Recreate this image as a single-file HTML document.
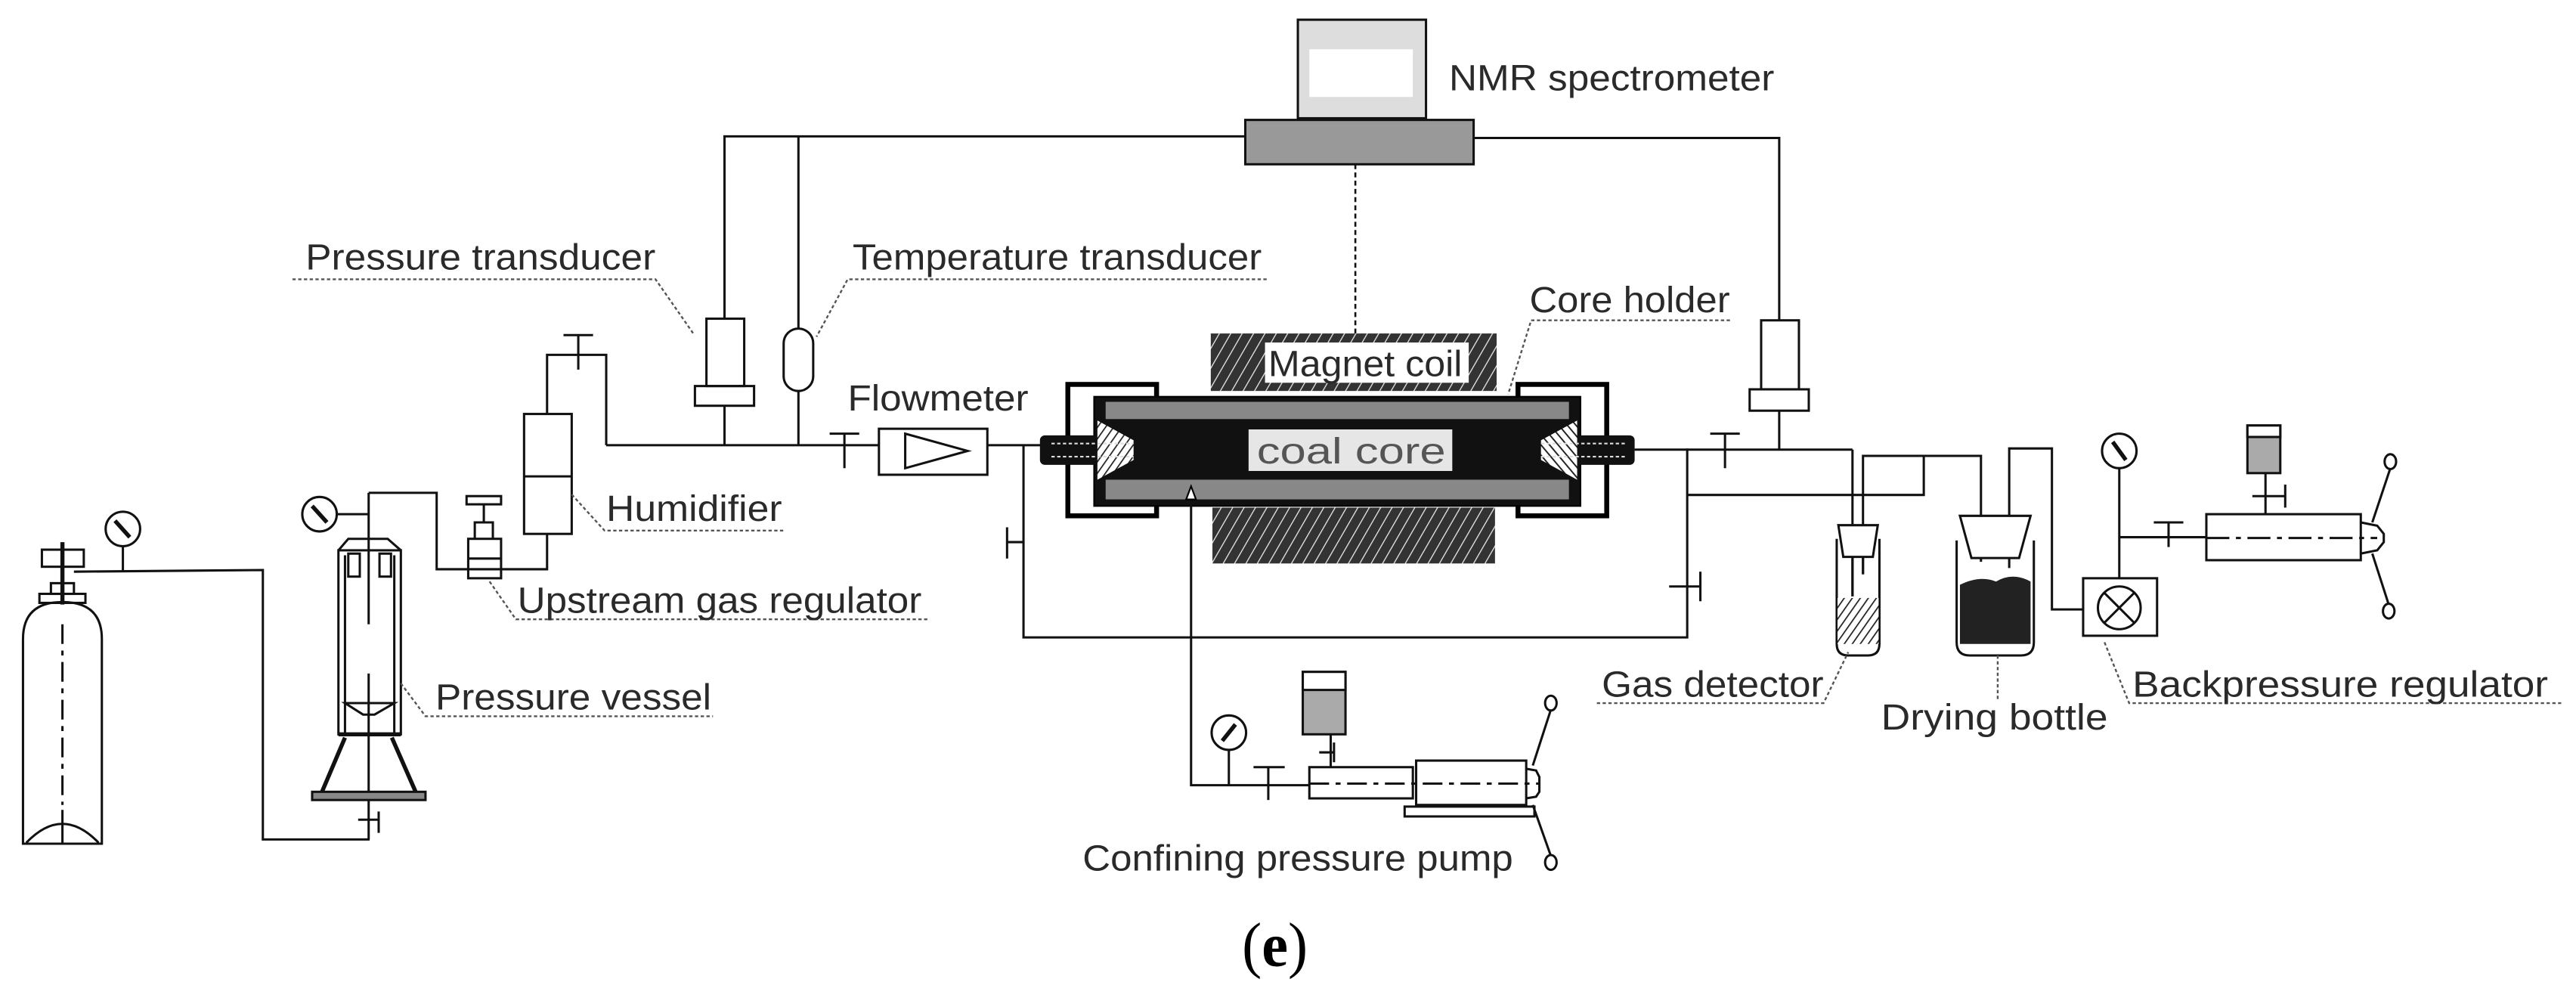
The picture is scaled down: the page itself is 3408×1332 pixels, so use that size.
<!DOCTYPE html>
<html><head><meta charset="utf-8"><style>
html,body{margin:0;padding:0;background:#fff}
svg{display:block}
text{font-family:"Liberation Sans",sans-serif;fill:#2a2a2a}
</style></head><body>
<svg width="3408" height="1332" viewBox="0 0 1568 613" preserveAspectRatio="none" xmlns="http://www.w3.org/2000/svg">
<defs>
<pattern id="hatch" width="6" height="6" patternUnits="userSpaceOnUse" patternTransform="rotate(30)">
<rect width="6" height="6" fill="#333"/><line x1="0" y1="0" x2="0" y2="6" stroke="#e8e8e8" stroke-width="1.2"/></pattern>
<pattern id="hatch2" width="4" height="4" patternUnits="userSpaceOnUse" patternTransform="rotate(35)">
<rect width="4" height="4" fill="#fff"/><line x1="0" y1="0" x2="0" y2="4" stroke="#222" stroke-width="1.6"/></pattern>
<pattern id="hatch3" width="4" height="4" patternUnits="userSpaceOnUse" patternTransform="rotate(-40)">
<rect width="4" height="4" fill="#fff"/><line x1="0" y1="0" x2="0" y2="4" stroke="#222" stroke-width="1.8"/></pattern>
</defs>
<rect width="1568" height="613" fill="#fff"/>
<g fill="none" stroke="#111" stroke-width="1.4">
<path d="M14,513.6 L14,389 Q14,366.5 38,366.5 Q62,366.5 62,389 L62,513.6 Z"/>
<path d="M16,513 Q38,490 60,513"/>
<line x1="38" y1="493" x2="38" y2="513"/>
<line x1="38" y1="380" x2="38" y2="490" stroke-dasharray="12,4,3,4"/>
<rect x="24" y="361.5" width="28" height="5.5"/>
<rect x="31" y="355" width="14" height="6.5"/>
<rect x="25.5" y="334.6" width="25.5" height="10.4"/>
<line x1="38" y1="330" x2="38" y2="368" stroke-width="2.5"/>
<polyline points="45,348 160,347 160,511 225,511"/>
<circle cx="74.8" cy="322" r="10.5"/><line x1="70" y1="317" x2="79" y2="327" stroke-width="2.5"/>
<line x1="74.8" y1="332.5" x2="74.8" y2="348"/>
<rect x="206" y="335" width="38" height="112"/>
<line x1="210" y1="338" x2="210" y2="447"/><line x1="240" y1="338" x2="240" y2="447"/>
<path d="M206,335 L212,328 L236,328 L244,335"/>
<rect x="212" y="337" width="7" height="14"/><rect x="231" y="337" width="7" height="14"/>
<line x1="224.4" y1="300" x2="224.4" y2="380"/>
<line x1="224.4" y1="410" x2="224.4" y2="511"/>
<path d="M210,428 L240,428 L228,435 L221,435 Z"/>
<line x1="206" y1="447" x2="244" y2="447" stroke-width="2.5"/>
<line x1="210" y1="449" x2="196" y2="482" stroke-width="2.5"/><line x1="238.5" y1="449" x2="253" y2="482" stroke-width="2.5"/>
<rect x="190" y="482" width="69" height="5" fill="#888"/>
<line x1="218" y1="499" x2="230.5" y2="499"/><line x1="230.5" y1="494" x2="230.5" y2="507"/>
<circle cx="194.5" cy="313" r="10.5"/><line x1="190" y1="308" x2="199" y2="318" stroke-width="2.5"/>
<line x1="205" y1="313" x2="224.4" y2="313"/>
<polyline points="224.4,300 265.8,300 265.8,346.5 333,346.5 333,325"/>
<rect x="285" y="328" width="20" height="24"/>
<line x1="285" y1="340" x2="305" y2="340"/>
<path d="M289,328 L289,318 L300,318 L300,328"/>
<line x1="294.5" y1="318" x2="294.5" y2="307"/>
<rect x="284" y="302" width="21" height="5"/>
<rect x="319" y="252" width="29" height="73"/>
<line x1="319" y1="290" x2="348" y2="290"/>
<polyline points="333,252 333,216 369,216 369,271"/>
<line x1="343" y1="204" x2="361" y2="204"/><line x1="352" y1="204" x2="352" y2="225"/>
<line x1="369" y1="271" x2="535" y2="271"/>
<line x1="601" y1="271" x2="635" y2="271"/>
<polyline points="441,271 441,247"/>
<rect x="423" y="235" width="36" height="12"/>
<rect x="430" y="194" width="23" height="41"/>
<polyline points="441,194 441,83 758,83"/>
<line x1="486" y1="83" x2="486" y2="200"/>
<rect x="477" y="200" width="18" height="38" rx="9"/>
<line x1="486" y1="238" x2="486" y2="271"/>
<line x1="505" y1="264" x2="523" y2="264"/><line x1="514" y1="264" x2="514" y2="285"/>
<rect x="535" y="261" width="66" height="28"/>
<path d="M551,264 L551,285 L589,274.5 Z"/>
<polyline points="623,271 623,388 1027,388 1027,273"/>
<line x1="613" y1="321" x2="613" y2="340"/><line x1="613" y1="330" x2="623" y2="330"/>
<line x1="1016" y1="357" x2="1035" y2="357"/><line x1="1035" y1="348" x2="1035" y2="366"/>
</g>
<rect x="790" y="12" width="78" height="60" fill="#ddd" stroke="#111" stroke-width="1.4"/>
<rect x="797" y="30" width="63" height="29" fill="#fff"/>
<rect x="758" y="73" width="139" height="27" fill="#999" stroke="#111" stroke-width="1.4"/>
<polyline points="897,84 1083,84 1083,195" fill="none" stroke="#111" stroke-width="1.4"/>
<line x1="825" y1="100" x2="825" y2="203" stroke="#111" stroke-width="1.2" stroke-dasharray="3,2"/>
<rect x="737" y="203" width="174" height="35" fill="url(#hatch)"/>
<rect x="738" y="309" width="172" height="34" fill="url(#hatch)"/>
<rect x="770" y="208.5" width="124" height="24.5" fill="#fff"/>
<text x="772" y="229" font-size="22" textLength="118" lengthAdjust="spacingAndGlyphs">Magnet coil</text>
<g stroke="#000">
<rect x="650" y="234" width="54" height="80" fill="#fff" stroke-width="3"/>
<rect x="924" y="234" width="54" height="80" fill="#fff" stroke-width="3"/>
<rect x="666" y="241.5" width="296" height="66.5" fill="#111" stroke-width="1"/>
</g>
<rect x="673" y="244.6" width="282" height="10.5" fill="#888"/>
<rect x="673" y="292" width="282" height="12" fill="#888"/>
<rect x="633" y="265" width="66" height="18" fill="#111" rx="3"/>
<rect x="929" y="265" width="66" height="18" fill="#111" rx="3"/>
<path d="M668,256 L690,268 L690,280 L668,292 Z" fill="url(#hatch2)"/>
<path d="M960,256 L938,268 L938,280 L960,292 Z" fill="url(#hatch3)"/>
<line x1="640" y1="270" x2="690" y2="270" stroke="#ddd" stroke-width="1" stroke-dasharray="2,1.5"/>
<line x1="640" y1="278" x2="690" y2="278" stroke="#ddd" stroke-width="1" stroke-dasharray="2,1.5"/>
<line x1="938" y1="270" x2="990" y2="270" stroke="#ddd" stroke-width="1" stroke-dasharray="2,1.5"/>
<line x1="938" y1="278" x2="990" y2="278" stroke="#ddd" stroke-width="1" stroke-dasharray="2,1.5"/>
<rect x="760" y="261.4" width="124" height="25.3" fill="#e6e6e6"/>
<text x="765" y="282" font-size="22" textLength="115" lengthAdjust="spacingAndGlyphs" style="fill:#555">coal  core</text>
<path d="M722,304 L725,296 L728,304 Z" fill="#fff" stroke="#000" stroke-width="1"/>
<g fill="none" stroke="#111" stroke-width="1.4">
<line x1="995" y1="273.7" x2="1127.6" y2="273.7"/>
<line x1="1041" y1="264" x2="1059" y2="264"/><line x1="1050" y1="264" x2="1050" y2="285"/>
<line x1="1083" y1="250" x2="1083" y2="273.7"/>
<rect x="1065" y="237" width="36" height="13"/>
<rect x="1072" y="195" width="23" height="42"/>
<line x1="1127.6" y1="273.7" x2="1127.6" y2="363"/>
<polyline points="1027,301.3 1171,301.3 1171,277.5"/>
<polyline points="1134,349.6 1134,277.5 1205.8,277.5 1205.8,342"/>
<polyline points="1223,345.8 1223,273 1249,273 1249,371 1268,371"/>
<path d="M1118,328 L1118,392 Q1118,399 1125,399 L1137,399 Q1144,399 1144,392 L1144,328"/>
<path d="M1119,319.7 L1143,319.7 L1140,339 L1122,339 Z" fill="#fff"/>
<path d="M1191,329 L1191,391 Q1191,399 1199,399 L1230,399 Q1238,399 1238,391 L1238,329"/>
<path d="M1193,314 L1236,314 L1229,339.7 L1200,339.7 Z" fill="#fff"/>
<rect x="1268" y="352" width="45" height="35"/>
<circle cx="1290" cy="370" r="13"/>
<line x1="1281" y1="361" x2="1299" y2="379"/><line x1="1299" y1="361" x2="1281" y2="379"/>
<circle cx="1290" cy="274.5" r="10.5"/><line x1="1286" y1="269" x2="1294" y2="280" stroke-width="2.5"/>
<line x1="1290" y1="285" x2="1290" y2="352"/>
<line x1="1290" y1="327" x2="1343" y2="327"/>
<line x1="1311" y1="318" x2="1329" y2="318"/><line x1="1320" y1="318" x2="1320" y2="333"/>
<rect x="1343" y="313" width="94" height="28"/>
<path d="M1437,318 L1447,320 L1451,325 L1451,330 L1447,335 L1437,337"/>
<line x1="1343" y1="327.5" x2="1447" y2="327.5" stroke-dasharray="14,4,3,4"/>
<line x1="1379" y1="288" x2="1379" y2="313"/>
<line x1="1371" y1="302" x2="1391" y2="302"/><line x1="1391" y1="295" x2="1391" y2="309"/>
<line x1="1444" y1="318" x2="1455" y2="285"/><line x1="1444" y1="337" x2="1454" y2="368"/>
<ellipse cx="1455" cy="281" rx="3.5" ry="4.5"/><ellipse cx="1454" cy="372" rx="3.5" ry="4.5"/>
<polyline points="725,307 725,478 797,478"/>
<circle cx="748" cy="446" r="10.5"/><line x1="744" y1="451" x2="752" y2="441" stroke-width="2.5"/>
<line x1="748" y1="456.5" x2="748" y2="478"/>
<line x1="763" y1="467" x2="782" y2="467"/><line x1="772" y1="467" x2="772" y2="487"/>
<rect x="797" y="467" width="63" height="19"/>
<rect x="862" y="463" width="67" height="27"/>
<path d="M929,468 L935,469 L937,473 L937,482 L935,485 L929,486"/>
<rect x="855" y="491" width="79" height="6"/>
<line x1="797" y1="477" x2="937" y2="477" stroke-dasharray="12,4,3,4"/>
<line x1="810" y1="447" x2="810" y2="467"/>
<line x1="803" y1="458" x2="812" y2="458"/><line x1="812" y1="452" x2="812" y2="464"/>
<line x1="933" y1="466" x2="944" y2="432"/><line x1="933" y1="490" x2="944" y2="521"/>
<ellipse cx="944" cy="428" rx="3.5" ry="4.5"/><ellipse cx="944" cy="525" rx="3.5" ry="4.5"/>
</g>
<rect x="1118.5" y="364" width="25" height="28" fill="url(#hatch2)"/>
<line x1="1127.6" y1="339" x2="1127.6" y2="363" stroke="#111" stroke-width="1.4"/>
<line x1="1134" y1="339" x2="1134" y2="349.6" stroke="#111" stroke-width="1.4"/>
<path d="M1193,356 Q1205,350 1215,354 Q1225,348 1236,354 L1236,392 L1193,392 Z" fill="#222"/>
<rect x="793" y="409" width="26" height="38" fill="#aaa" stroke="#111" stroke-width="1.4"/>
<rect x="793" y="409" width="26" height="11" fill="#fff" stroke="#111" stroke-width="1.4"/>
<rect x="1368" y="259" width="20" height="29" fill="#aaa" stroke="#111" stroke-width="1.4"/>
<rect x="1368" y="259" width="20" height="7" fill="#fff" stroke="#111" stroke-width="1.4"/>
<g fill="none" stroke="#555" stroke-width="1.1" stroke-dasharray="2,1.5">
<polyline points="178,170 399,170 422,203"/>
<polyline points="771,170 516,170 497,205"/>
<polyline points="348,301 368,323 478,323"/>
<polyline points="298,354 314,377 565,377"/>
<polyline points="244,416 259,436 434,436"/>
<polyline points="1053,195 932,195 918,240"/>
<polyline points="972,428 1110,428 1125,397"/>
<line x1="1216" y1="399" x2="1216" y2="426"/>
<polyline points="1281,391 1296,428 1559,428"/>
</g>
<g font-size="22">
<text x="882" y="55" textLength="198" lengthAdjust="spacingAndGlyphs">NMR spectrometer</text>
<text x="186" y="164" textLength="213" lengthAdjust="spacingAndGlyphs">Pressure transducer</text>
<text x="519" y="164" textLength="249" lengthAdjust="spacingAndGlyphs">Temperature transducer</text>
<text x="931" y="190" textLength="122" lengthAdjust="spacingAndGlyphs">Core holder</text>
<text x="516" y="250" textLength="110" lengthAdjust="spacingAndGlyphs">Flowmeter</text>
<text x="369" y="317" textLength="107" lengthAdjust="spacingAndGlyphs">Humidifier</text>
<text x="315" y="373" textLength="246" lengthAdjust="spacingAndGlyphs">Upstream gas regulator</text>
<text x="265" y="432" textLength="168" lengthAdjust="spacingAndGlyphs">Pressure vessel</text>
<text x="975" y="424" textLength="135" lengthAdjust="spacingAndGlyphs">Gas detector</text>
<text x="1145" y="444" textLength="138" lengthAdjust="spacingAndGlyphs">Drying  bottle</text>
<text x="1298" y="424" textLength="253" lengthAdjust="spacingAndGlyphs">Backpressure  regulator</text>
<text x="659" y="530" textLength="262" lengthAdjust="spacingAndGlyphs">Confining pressure pump</text>
</g>
<text x="756" y="588" font-size="38" style="font-family:'Liberation Serif',serif;fill:#000" textLength="40" lengthAdjust="spacingAndGlyphs">(<tspan style="font-weight:bold">e</tspan>)</text>
</svg>
</body></html>
